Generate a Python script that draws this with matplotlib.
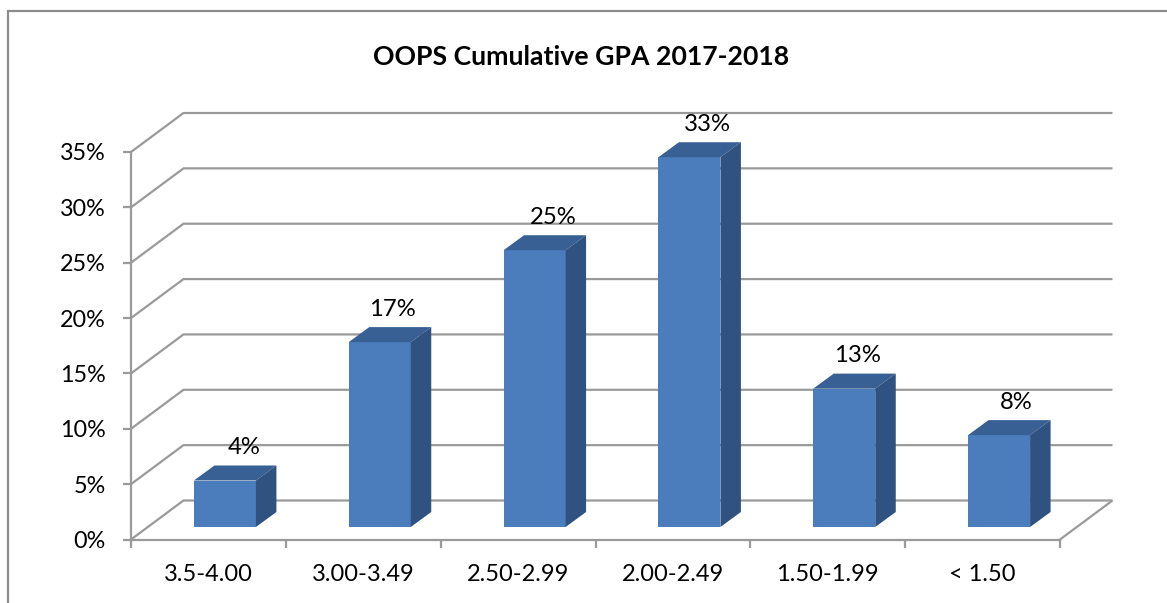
import matplotlib
matplotlib.use("Agg")
import matplotlib.pyplot as plt
from matplotlib.lines import Line2D
from matplotlib.patches import Polygon
import numpy as np

categories = ["3.5-4.00", "3.00-3.49", "2.50-2.99", "2.00-2.49", "1.50-1.99", "< 1.50"]
values = [4.2, 16.7, 25.0, 33.4, 12.5, 8.3]
value_labels = ["4%", "17%", "25%", "33%", "13%", "8%"]
y_ticks = [0, 5, 10, 15, 20, 25, 30, 35]
title = "OOPS Cumulative GPA 2017-2018"

plt.rcParams["font.family"] = ["Lato", "DejaVu Sans"]

W, H = 1167, 603
GRID = "#9a9a9a"
FRAME = "#8c8c8c"
FRONT = "#4b7dbc"
TOP = "#386094"
SIDE = "#2f5280"
LW = 1.6

fig = plt.figure(figsize=(W / 100, H / 100), dpi=100, facecolor="white")
L, R, T, B = 131, 1060, 152, 539.5
ax = fig.add_axes([L / W, 1 - B / H, (R - L) / W, (B - T) / H], facecolor="none")
ax.set_xlim(0, len(categories))
ax.set_ylim(0, 35)

px_x = len(categories) / (R - L)   # data units per pixel
px_y = 35 / (B - T)

wall_dx, wall_dy = 52.5 * px_x, 39 * px_y
bar_dx, bar_dy = 20.5 * px_x, 15 * px_y
bar_w = 62 * px_x
floor_dx, floor_dy = 16.5 * px_x, 12.5 * px_y
label_nudge = [19, 13, 19, 18, 13, 17]

# walls
line_kw = dict(color=GRID, lw=LW, clip_on=False, solid_capstyle="butt", zorder=1)
for t in y_ticks:
    ax.plot([0, wall_dx, len(categories) + wall_dx], [t, t + wall_dy, t + wall_dy], **line_kw)
ax.plot([len(categories), len(categories) + wall_dx], [0, wall_dy], **line_kw)

for s in ("top", "right"):
    ax.spines[s].set_visible(False)
for s in ("left", "bottom"):
    ax.spines[s].set_color(GRID)
    ax.spines[s].set_linewidth(LW)
    ax.spines[s].set_zorder(1)

ax.set_yticks(y_ticks)
ax.set_yticklabels([f"{t}%" for t in y_ticks])
ax.set_xticks(np.arange(len(categories) + 1))
ax.set_xticklabels([""] * (len(categories) + 1))
ax.tick_params(axis="y", length=6, width=LW, color=GRID, labelsize=16.8, pad=12, labelcolor="black")
ax.tick_params(axis="x", length=5.5, width=LW, color=GRID)

# category labels
for i, c in enumerate(categories):
    ax.annotate(c, (i + 0.5, 0), xytext=(0, -25), textcoords="offset points",
                ha="center", va="center", fontsize=17, color="black")

# bars
centers = np.arange(len(categories)) + 0.5 + floor_dx
bars = ax.bar(centers, values, width=bar_w, bottom=floor_dy, color=FRONT, zorder=3, linewidth=0)
for bar, v, lab, nudge in zip(bars, values, value_labels, label_nudge):
    x0, x1 = bar.get_x(), bar.get_x() + bar.get_width()
    y0, y1 = bar.get_y(), bar.get_y() + bar.get_height()
    ax.add_patch(Polygon([(x0, y1), (x1, y1), (x1 + bar_dx, y1 + bar_dy), (x0 + bar_dx, y1 + bar_dy)],
                         closed=True, fc=TOP, ec="none", zorder=3, clip_on=False))
    ax.add_patch(Polygon([(x1, y0), (x1, y1), (x1 + bar_dx, y1 + bar_dy), (x1 + bar_dx, y0 + bar_dy)],
                         closed=True, fc=SIDE, ec="none", zorder=3, clip_on=False))
    ax.annotate(lab, ((x0 + x1) / 2, y1), xytext=(nudge * 0.72, 23.5), textcoords="offset points",
                ha="center", va="center", fontsize=17.2, color="black", zorder=4,
                annotation_clip=False)

fig.text(581 / W, 1 - 57 / H, title, ha="center", va="center", fontsize=19.2, fontweight="bold", color="black")

# chart frame (top and left edges only are inside the picture)
fig.add_artist(Line2D([8 / W, 8 / W, 1], [0, 1 - 11 / H, 1 - 11 / H], color=FRAME, lw=LW,
                      transform=fig.transFigure, solid_joinstyle="miter"))

fig.savefig("out.png", dpi=100, facecolor="white")
